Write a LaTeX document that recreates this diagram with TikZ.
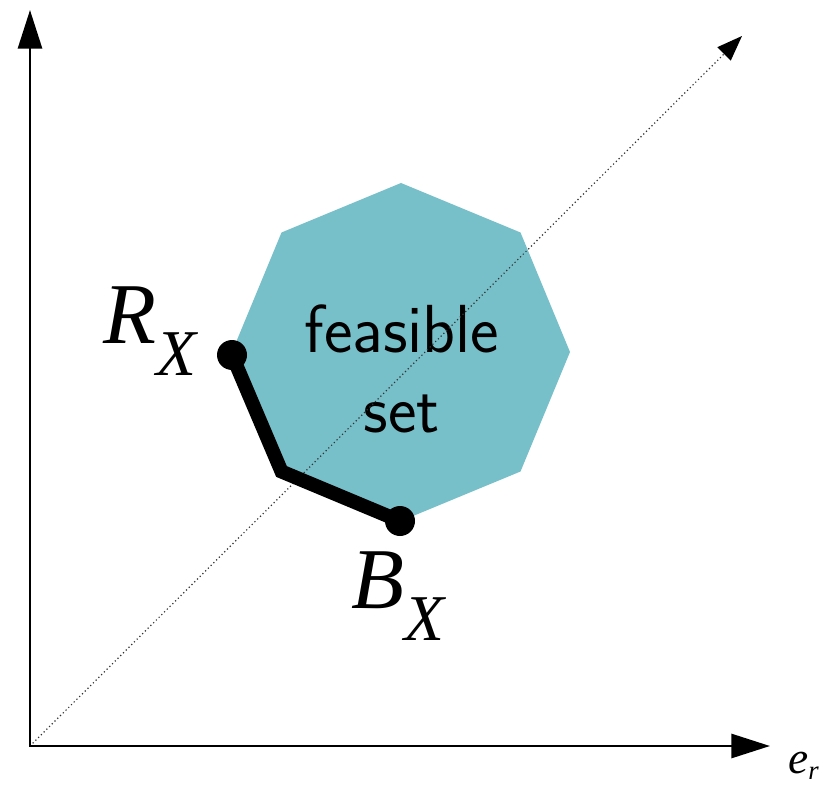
\documentclass[tikz,border=0pt]{standalone}
\usepackage{fontspec}
\newfontfamily\tnr{Liberation Serif}
\usetikzlibrary{arrows.meta}
\definecolor{feas}{RGB}{120,192,201}
\tikzset{
  axis/.style={line width=2.2pt, line join=miter, {Triangle[length=29pt,width=18pt]}-{Triangle[length=29pt,width=18pt]}},
  diag/.style={line width=0.9pt, black!80, dash pattern=on 0.9pt off 2pt, -{Triangle[length=19pt,width=14pt,black,sep=0pt]}},
  dotnode/.style={circle, fill=black, inner sep=0pt, minimum size=22.5pt},
  pathline/.style={line width=10.5pt, line join=miter, black},
  lbl/.style={font=\tnr\itshape\fontsize{65}{65}\selectfont, inner sep=0pt, anchor=base west},
  feastext/.style={font=\sffamily\fontsize{51}{51}\selectfont, inner sep=0pt, anchor=base},
}
\begin{document}
\begin{tikzpicture}[x=0.75pt,y=-0.75pt]
\useasboundingbox (0,0) rectangle (828,788);
\coordinate (O) at (30,746);
\coordinate (Yt) at (30,10);
\coordinate (Xt) at (770,746);
\coordinate (Dt) at (742,36);
\coordinate (P0) at (401,183);
\coordinate (P1) at (520.5,232.5);
\coordinate (P2) at (570,352);
\coordinate (P3) at (520.5,471.5);
\coordinate (P4) at (401,521);
\coordinate (P5) at (281.5,471.5);
\coordinate (P6) at (232,352);
\coordinate (P7) at (281.5,232.5);
\fill[feas] (P0) -- (P1) -- (P2) -- (P3) -- (P4) -- (P5) -- (P6) -- (P7) -- cycle;
\node[feastext] (F1) at (402,352) {feasible};
\node[feastext] (F2) at (402,432) {set};
\draw[diag] (O) -- (Dt);
\draw[axis] (Yt) -- (O) -- (Xt);
\node[dotnode] (RD) at (232,355) {};
\node[dotnode] (BD) at (400,521) {};
\draw[pathline] (RD.center) -- (P5) -- (BD.center);
\node[lbl] (RX) at (103,343) {R\raisebox{-24pt}{\fontsize{49}{49}\selectfont X}};
\node[lbl] (BX) at (351,608) {B\raisebox{-24pt}{\fontsize{49}{49}\selectfont X}};
\node[lbl, font=\tnr\itshape\fontsize{34}{34}\selectfont] (ER) at (788,773) {e\raisebox{-5pt}{\fontsize{20}{20}\selectfont r}};
\end{tikzpicture}
\end{document}
